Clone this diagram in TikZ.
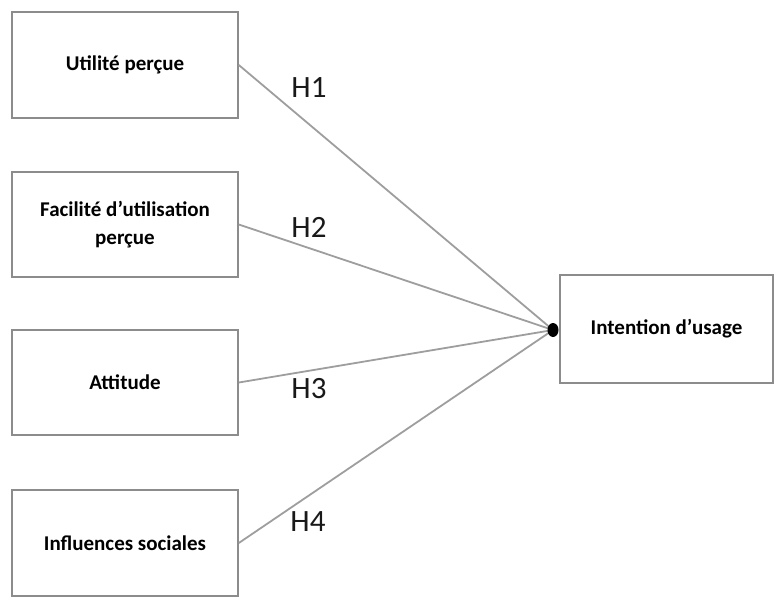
\documentclass[tikz,border=0pt]{standalone}
\usepackage{fontspec}
\setmainfont{Carlito}
\begin{document}
\begin{tikzpicture}[x=1pt,y=-1pt,
  box/.style={draw=black!45,line width=1.6pt,fill=white,inner sep=0pt,align=center,
    font=\fontsize{21}{28}\selectfont\bfseries},
  link/.style={draw=black!38,line width=1.8pt},
  hyp/.style={font=\fontsize{31}{33}\selectfont,text=black!90}]
\useasboundingbox (0,0) rectangle (775,599);
% factor boxes
\node[box,minimum width=226pt,minimum height=106pt] (u) at (125,65) {Utilité perçue};
\node[box,minimum width=226pt,minimum height=105pt] (f) at (125,224.5) {Facilité d'utilisation\\perçue};
\node[box,minimum width=226pt,minimum height=105pt] (a) at (125,382.5) {Attitude};
\node[box,minimum width=226pt,minimum height=106pt] (i) at (125,543) {Influences sociales};
% outcome box
\node[box,minimum width=213pt,minimum height=108pt] (t) at (666.5,329) {Intention d'usage};
\coordinate (hub) at (553,330);
% hypotheses
\draw[link] (u.east) -- (hub);
\draw[link] (f.east) -- (hub);
\draw[link] (a.east) -- (hub);
\draw[link] (i.east) -- (hub);
\fill[black] (hub) ellipse (5.5pt and 7pt);
\node[hyp] (h1) at (309,88) {H1};
\node[hyp] (h2) at (309,227) {H2};
\node[hyp] (h3) at (309,389) {H3};
\node[hyp] (h4) at (308,522) {H4};
\end{tikzpicture}
\end{document}
